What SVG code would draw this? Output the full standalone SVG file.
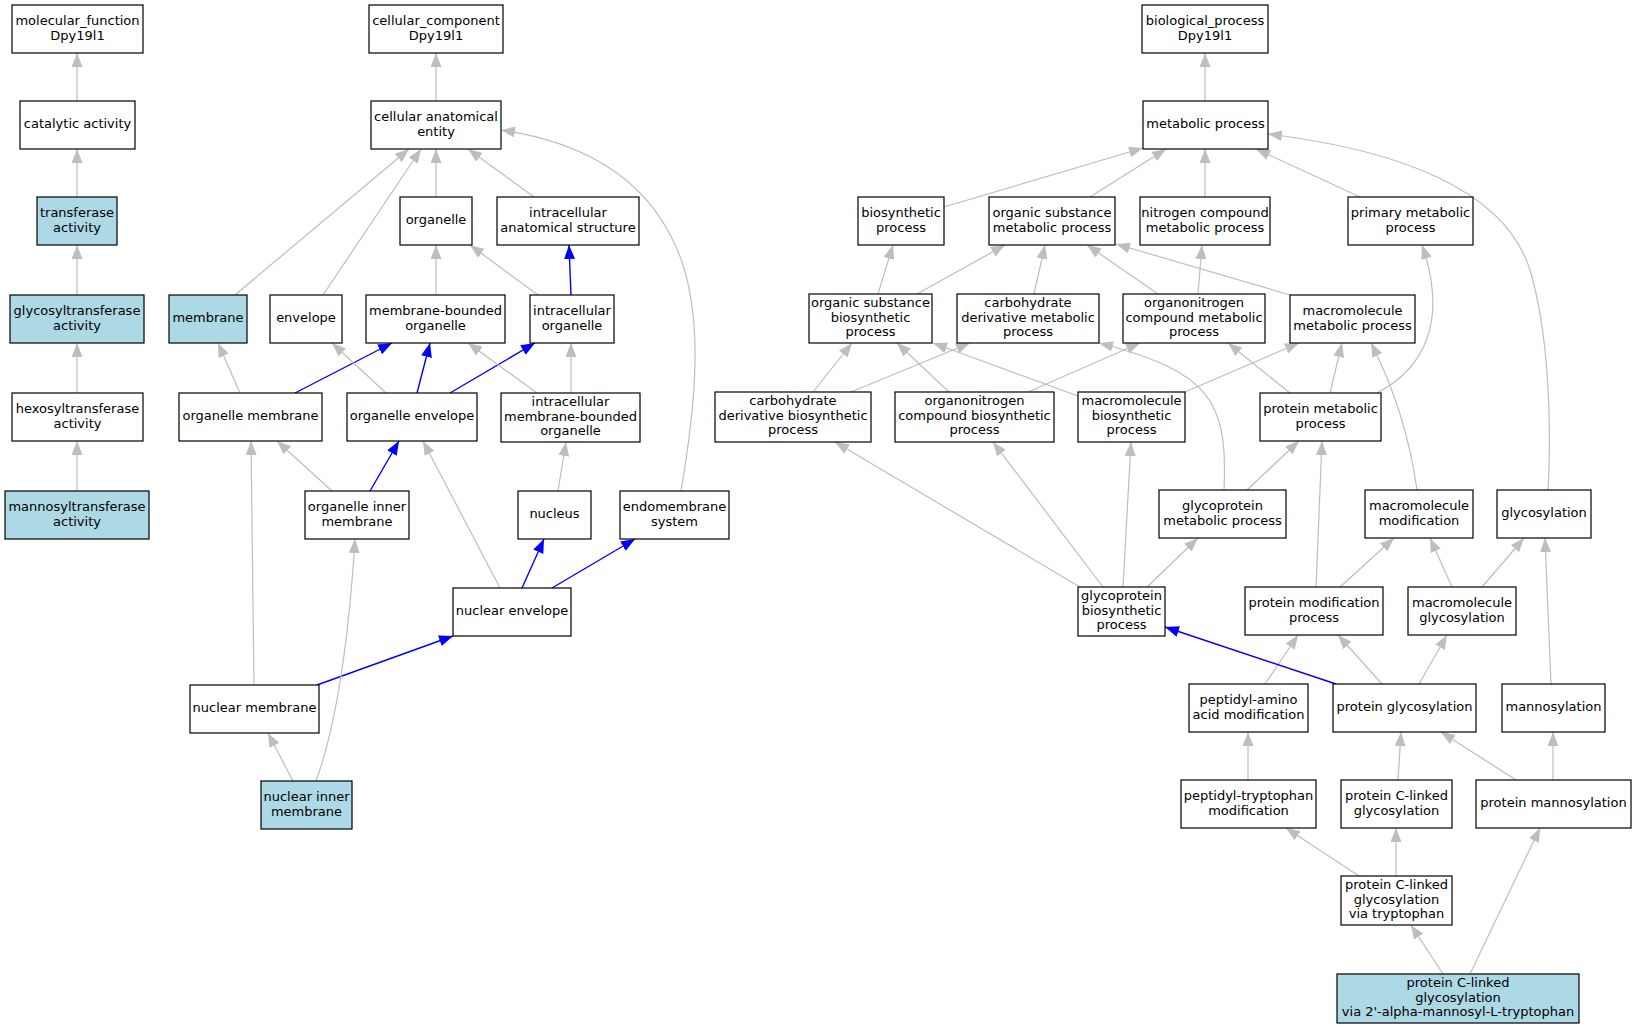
<svg xmlns="http://www.w3.org/2000/svg" width="1632" height="1032" viewBox="0 0 1632 1032">
<style>
.n rect{fill:#ffffff;stroke:#000000;stroke-width:1.2}
.n.h rect{fill:#add8e6}
.n text{font-family:"DejaVu Sans","Liberation Sans",sans-serif;font-size:13px;fill:#000000;text-anchor:middle}
#edges path{fill:none;stroke:#bebebe;stroke-width:1.2;marker-end:url(#ag)}
#edges path.b{stroke:#0000ff;stroke-width:1.4;marker-end:url(#ab)}
</style>
<defs>
<marker id="ag" markerUnits="userSpaceOnUse" markerWidth="14" markerHeight="11" viewBox="0 0 14 11" refX="14" refY="5.5" orient="auto"><path d="M0,0 L14,5.5 L0,11 z" fill="#bebebe"/></marker>
<marker id="ab" markerUnits="userSpaceOnUse" markerWidth="14" markerHeight="11" viewBox="0 0 14 11" refX="14" refY="5.5" orient="auto"><path d="M0,0 L14,5.5 L0,11 z" fill="#0000ff"/></marker>
</defs>
<rect x="0" y="0" width="1632" height="1032" fill="#ffffff"/>
<g id="edges">
<path d="M77,101 L77,53"/>
<path d="M77,197 L77,149"/>
<path d="M77,295 L77,245"/>
<path d="M77,393 L77,343"/>
<path d="M77,491 L77,441"/>
<path d="M436,101 L436,53"/>
<path d="M436,197 L436,149"/>
<path d="M534,197 L468,149"/>
<path d="M235,295 L409,149"/>
<path d="M323,295 L421,149"/>
<path d="M681,491 C693,420 705,330 682,262 C650,170 570,140 501,130"/>
<path d="M436,295 L436,245"/>
<path d="M538,295 L470,245"/>
<path class="b" d="M571,295 L569,245"/>
<path d="M240,393 L218,343"/>
<path class="b" d="M295,393 L392,343"/>
<path d="M386,393 L332,343"/>
<path class="b" d="M417,393 L430,343"/>
<path class="b" d="M450,393 L535,343"/>
<path d="M537,393 L468,343"/>
<path d="M571,393 L571,343"/>
<path d="M332,491 L277,441"/>
<path class="b" d="M370,491 L399,441"/>
<path d="M500,588 L423,441"/>
<path d="M558,491 L566,442"/>
<path class="b" d="M522,588 L544,539"/>
<path class="b" d="M552,588 L635,539"/>
<path d="M254,685 L251,441"/>
<path class="b" d="M317,685 L453,636"/>
<path d="M293,781 L268,733"/>
<path d="M316,781 C340,715 350,620 355,539"/>
<path d="M1205,101 L1205,53"/>
<path d="M944,207 L1143,148"/>
<path d="M1090,197 L1166,149"/>
<path d="M1205,197 L1205,149"/>
<path d="M1360,197 L1256,149"/>
<path d="M1548,490 C1552,420 1548,330 1530,270 C1505,190 1400,150 1268,134"/>
<path d="M878,294 L893,245"/>
<path d="M917,294 L1005,245"/>
<path d="M1034,294 L1045,245"/>
<path d="M1158,294 L1087,245"/>
<path d="M1198,294 L1202,245"/>
<path d="M1290,295 L1116,244"/>
<path d="M1377,393 C1425,368 1448,320 1422,245"/>
<path d="M813,392 L852,343"/>
<path d="M851,392 L970,343"/>
<path d="M949,392 L897,343"/>
<path d="M1028,392 L1140,343"/>
<path d="M1078,396 L933,343"/>
<path d="M1185,392 L1299,343"/>
<path d="M1224,490 C1228,400 1210,372 1099,343"/>
<path d="M1290,393 L1228,343"/>
<path d="M1330,393 L1342,343"/>
<path d="M1417,490 C1410,440 1395,390 1371,343"/>
<path d="M1080,587 L835,442"/>
<path d="M1103,587 L993,442"/>
<path d="M1123,587 L1131,442"/>
<path d="M1147,587 L1198,538"/>
<path d="M1247,490 L1299,441"/>
<path d="M1316,587 L1322,441"/>
<path d="M1340,587 L1394,538"/>
<path d="M1452,587 L1430,538"/>
<path d="M1482,587 L1524,538"/>
<path d="M1265,684 L1298,635"/>
<path class="b" d="M1336,684 L1165,627"/>
<path d="M1382,684 L1338,635"/>
<path d="M1419,684 L1447,635"/>
<path d="M1551,684 L1545,538"/>
<path d="M1248,780 L1248,732"/>
<path d="M1398,780 L1401,732"/>
<path d="M1516,780 L1441,732"/>
<path d="M1553,780 L1553,732"/>
<path d="M1359,876 L1286,828"/>
<path d="M1396,876 L1396,828"/>
<path d="M1443,974 L1411,925"/>
<path d="M1470,974 L1540,828"/>
</g>
<g id="mf" class="n"><rect x="12" y="5" width="131" height="48"/><text x="77.5" y="24.7">molecular_function</text><text x="77.5" y="40.2">Dpy19l1</text></g>
<g id="catalytic" class="n"><rect x="20" y="101" width="115" height="48"/><text x="77.5" y="128">catalytic activity</text></g>
<g id="transferase" class="n h"><rect x="37" y="197" width="80" height="48"/><text x="77" y="216.7">transferase</text><text x="77" y="232.2">activity</text></g>
<g id="glycosyltransferase" class="n h"><rect x="10" y="295" width="134" height="48"/><text x="77" y="314.7">glycosyltransferase</text><text x="77" y="330.2">activity</text></g>
<g id="hexosyltransferase" class="n"><rect x="12" y="393" width="131" height="48"/><text x="77.5" y="412.7">hexosyltransferase</text><text x="77.5" y="428.2">activity</text></g>
<g id="mannosyltransferase" class="n h"><rect x="5" y="491" width="144" height="48"/><text x="77" y="510.7">mannosyltransferase</text><text x="77" y="526.2">activity</text></g>
<g id="cc" class="n"><rect x="369" y="5" width="134" height="48"/><text x="436" y="24.7">cellular_component</text><text x="436" y="40.2">Dpy19l1</text></g>
<g id="cae" class="n"><rect x="371" y="101" width="130" height="48"/><text x="436" y="120.7">cellular anatomical</text><text x="436" y="136.2">entity</text></g>
<g id="organelle" class="n"><rect x="400" y="197" width="72" height="48"/><text x="436" y="224">organelle</text></g>
<g id="ias" class="n"><rect x="497" y="197" width="142" height="48"/><text x="568" y="216.7">intracellular</text><text x="568" y="232.2">anatomical structure</text></g>
<g id="membrane" class="n h"><rect x="169" y="295" width="78" height="48"/><text x="208" y="322">membrane</text></g>
<g id="envelope" class="n"><rect x="270" y="295" width="72" height="48"/><text x="306" y="322">envelope</text></g>
<g id="mbo" class="n"><rect x="366" y="295" width="139" height="48"/><text x="435.5" y="314.7">membrane-bounded</text><text x="435.5" y="330.2">organelle</text></g>
<g id="io" class="n"><rect x="530" y="295" width="84" height="48"/><text x="572" y="314.7">intracellular</text><text x="572" y="330.2">organelle</text></g>
<g id="om" class="n"><rect x="179" y="393" width="143" height="48"/><text x="250.5" y="420">organelle membrane</text></g>
<g id="oe" class="n"><rect x="347" y="393" width="130" height="48"/><text x="412" y="420">organelle envelope</text></g>
<g id="imbo" class="n"><rect x="501" y="393" width="139" height="49"/><text x="570.5" y="405.8">intracellular</text><text x="570.5" y="420.8">membrane-bounded</text><text x="570.5" y="435.2">organelle</text></g>
<g id="oim" class="n"><rect x="305" y="491" width="104" height="48"/><text x="357" y="510.7">organelle inner</text><text x="357" y="526.2">membrane</text></g>
<g id="nucleus" class="n"><rect x="518" y="491" width="73" height="48"/><text x="554.5" y="518">nucleus</text></g>
<g id="ems" class="n"><rect x="620" y="491" width="109" height="48"/><text x="674.5" y="510.7">endomembrane</text><text x="674.5" y="526.2">system</text></g>
<g id="ne" class="n"><rect x="453" y="588" width="118" height="48"/><text x="512" y="615">nuclear envelope</text></g>
<g id="nm" class="n"><rect x="190" y="685" width="129" height="48"/><text x="254.5" y="712">nuclear membrane</text></g>
<g id="nim" class="n h"><rect x="261" y="781" width="91" height="48"/><text x="306.5" y="800.7">nuclear inner</text><text x="306.5" y="816.2">membrane</text></g>
<g id="bp" class="n"><rect x="1142" y="5" width="126" height="48"/><text x="1205" y="24.7">biological_process</text><text x="1205" y="40.2">Dpy19l1</text></g>
<g id="mp" class="n"><rect x="1143" y="101" width="125" height="48"/><text x="1205.5" y="128">metabolic process</text></g>
<g id="biosyn" class="n"><rect x="858" y="197" width="86" height="48"/><text x="901" y="216.7">biosynthetic</text><text x="901" y="232.2">process</text></g>
<g id="osmp" class="n"><rect x="989" y="197" width="126" height="48"/><text x="1052" y="216.7">organic substance</text><text x="1052" y="232.2">metabolic process</text></g>
<g id="ncmp" class="n"><rect x="1140" y="197" width="130" height="48"/><text x="1205" y="216.7">nitrogen compound</text><text x="1205" y="232.2">metabolic process</text></g>
<g id="pmp" class="n"><rect x="1348" y="197" width="125" height="48"/><text x="1410.5" y="216.7">primary metabolic</text><text x="1410.5" y="232.2">process</text></g>
<g id="osbp" class="n"><rect x="809" y="294" width="123" height="49"/><text x="870.5" y="306.8">organic substance</text><text x="870.5" y="321.8">biosynthetic</text><text x="870.5" y="336.2">process</text></g>
<g id="cdmp" class="n"><rect x="957" y="294" width="142" height="49"/><text x="1028" y="306.8">carbohydrate</text><text x="1028" y="321.8">derivative metabolic</text><text x="1028" y="336.2">process</text></g>
<g id="oncmp" class="n"><rect x="1123" y="294" width="142" height="49"/><text x="1194" y="306.8">organonitrogen</text><text x="1194" y="321.8">compound metabolic</text><text x="1194" y="336.2">process</text></g>
<g id="mmp" class="n"><rect x="1290" y="295" width="125" height="48"/><text x="1352.5" y="314.7">macromolecule</text><text x="1352.5" y="330.2">metabolic process</text></g>
<g id="cdbp" class="n"><rect x="715" y="392" width="156" height="50"/><text x="793" y="404.8">carbohydrate</text><text x="793" y="419.8">derivative biosynthetic</text><text x="793" y="434.2">process</text></g>
<g id="oncbp" class="n"><rect x="895" y="392" width="159" height="50"/><text x="974.5" y="404.8">organonitrogen</text><text x="974.5" y="419.8">compound biosynthetic</text><text x="974.5" y="434.2">process</text></g>
<g id="mbp" class="n"><rect x="1078" y="392" width="107" height="50"/><text x="1131.5" y="404.8">macromolecule</text><text x="1131.5" y="419.8">biosynthetic</text><text x="1131.5" y="434.2">process</text></g>
<g id="prmp" class="n"><rect x="1260" y="393" width="121" height="48"/><text x="1320.5" y="412.7">protein metabolic</text><text x="1320.5" y="428.2">process</text></g>
<g id="gmp" class="n"><rect x="1159" y="490" width="127" height="48"/><text x="1222.5" y="509.7">glycoprotein</text><text x="1222.5" y="525.2">metabolic process</text></g>
<g id="mmod" class="n"><rect x="1365" y="490" width="108" height="48"/><text x="1419" y="509.7">macromolecule</text><text x="1419" y="525.2">modification</text></g>
<g id="glyc" class="n"><rect x="1497" y="490" width="94" height="48"/><text x="1544" y="517">glycosylation</text></g>
<g id="gbp" class="n"><rect x="1078" y="587" width="87" height="49"/><text x="1121.5" y="599.8">glycoprotein</text><text x="1121.5" y="614.8">biosynthetic</text><text x="1121.5" y="629.2">process</text></g>
<g id="pmod" class="n"><rect x="1245" y="587" width="138" height="48"/><text x="1314" y="606.7">protein modification</text><text x="1314" y="622.2">process</text></g>
<g id="mglyc" class="n"><rect x="1408" y="587" width="108" height="48"/><text x="1462" y="606.7">macromolecule</text><text x="1462" y="622.2">glycosylation</text></g>
<g id="pam" class="n"><rect x="1189" y="684" width="119" height="48"/><text x="1248.5" y="703.7">peptidyl-amino</text><text x="1248.5" y="719.2">acid modification</text></g>
<g id="pglyc" class="n"><rect x="1333" y="684" width="143" height="48"/><text x="1404.5" y="711">protein glycosylation</text></g>
<g id="mann" class="n"><rect x="1502" y="684" width="103" height="48"/><text x="1553.5" y="711">mannosylation</text></g>
<g id="ptm" class="n"><rect x="1181" y="780" width="135" height="48"/><text x="1248.5" y="799.7">peptidyl-tryptophan</text><text x="1248.5" y="815.2">modification</text></g>
<g id="pcl" class="n"><rect x="1341" y="780" width="111" height="48"/><text x="1396.5" y="799.7">protein C-linked</text><text x="1396.5" y="815.2">glycosylation</text></g>
<g id="pman" class="n"><rect x="1476" y="780" width="155" height="48"/><text x="1553.5" y="807">protein mannosylation</text></g>
<g id="pclt" class="n"><rect x="1341" y="876" width="111" height="49"/><text x="1396.5" y="888.8">protein C-linked</text><text x="1396.5" y="903.8">glycosylation</text><text x="1396.5" y="918.2">via tryptophan</text></g>
<g id="pclm" class="n h"><rect x="1337" y="974" width="242" height="49"/><text x="1458" y="986.8">protein C-linked</text><text x="1458" y="1001.8">glycosylation</text><text x="1458" y="1016.2">via 2'-alpha-mannosyl-L-tryptophan</text></g>
</svg>
